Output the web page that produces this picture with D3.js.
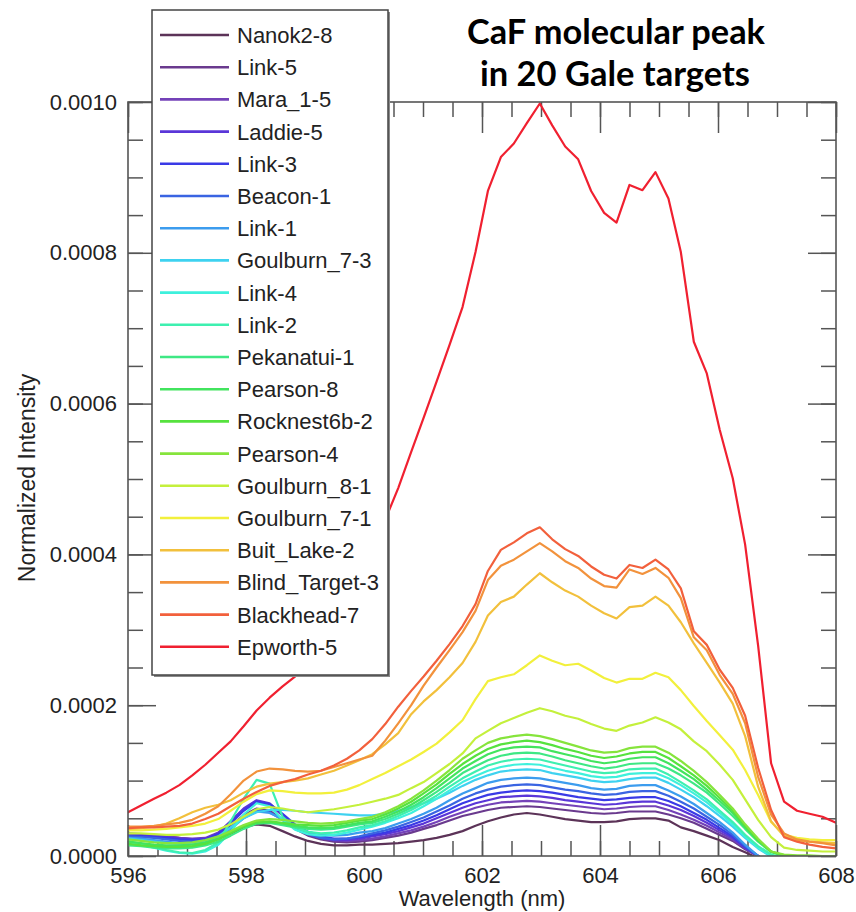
<!DOCTYPE html>
<html>
<head>
<meta charset="utf-8">
<script src="https://cdn.jsdelivr.net/npm/d3@7"></script>
<style>
  html, body { margin: 0; padding: 0; background: #fff; }
  svg { display: block; }
</style>
</head>
<body>
<svg id="chart" width="856" height="912"></svg>
<script>
// Wavelength channels (nm)
const wavelengths = [
  596.00, 596.22, 596.44, 596.65, 596.87, 597.09, 597.31, 597.53, 597.74, 597.96,
  598.18, 598.40, 598.62, 598.83, 599.05, 599.27, 599.49, 599.71, 599.92, 600.14,
  600.36, 600.58, 600.80, 601.01, 601.23, 601.45, 601.67, 601.89, 602.10, 602.32,
  602.54, 602.76, 602.98, 603.19, 603.41, 603.63, 603.85, 604.07, 604.28, 604.50,
  604.72, 604.94, 605.16, 605.37, 605.59, 605.81, 606.03, 606.25, 606.46, 606.68,
  606.90, 607.12, 607.34, 607.55, 607.77, 608.00
];

// Normalized intensity of each target, in units of 1e-5
const INTENSITY_UNIT = 1e-5;

const nanok2_8 = [
  2.6, 2.6, 2.5, 2.3, 2.1, 2.0, 2.0, 2.3, 3.0, 3.8,
  4.2, 4.0, 3.3, 2.6, 2.0, 1.6, 1.4, 1.4, 1.5,
  1.5, 1.6, 1.7, 1.9, 2.1, 2.4, 2.8, 3.3, 4.0, 4.6,
  5.1, 5.5, 5.7, 5.5, 5.2, 4.9, 4.7, 4.5, 4.5, 4.6,
  4.9, 5.0, 5.0, 4.7, 3.8, 3.3, 2.7, 2.1, 1.2, 0.5,
  -0.3, -1.0, -1.5, -1.5, -1.5, -1.5, -1.5
];
const link_5 = [
  3.0, 2.9, 2.8, 2.6, 2.4, 2.2, 2.3, 2.8, 4.0, 5.4,
  6.3, 6.0, 4.8, 3.6, 2.7, 2.2, 1.9, 1.8, 1.9,
  2.1, 2.4, 2.7, 3.1, 3.6, 4.1, 4.7, 5.3, 5.7, 6.1,
  6.4, 6.5, 6.6, 6.5, 6.3, 6.1, 5.9, 5.7, 5.6, 5.7,
  5.9, 5.9, 5.9, 5.5, 5.0, 4.4, 3.6, 2.8, 2.0, 0.9,
  0.0, -1.0, -1.5, -1.5, -1.5, -1.5, -1.5
];
const mara_1_5 = [
  2.8, 2.8, 2.7, 2.6, 2.4, 2.3, 2.4, 3.1, 4.6, 6.2,
  7.1, 6.8, 5.4, 4.0, 3.0, 2.4, 2.1, 2.0, 2.1,
  2.3, 2.6, 3.0, 3.4, 3.9, 4.5, 5.2, 5.8, 6.4, 6.8,
  7.1, 7.2, 7.3, 7.2, 7.0, 6.8, 6.6, 6.4, 6.2, 6.3,
  6.5, 6.6, 6.6, 6.1, 5.5, 4.8, 4.0, 3.1, 2.2, 1.0,
  0.0, -1.0, -1.5, -1.5, -1.5, -1.5, -1.5
];
const laddie_5 = [
  2.9, 2.8, 2.7, 2.5, 2.3, 2.2, 2.3, 3.0, 4.6, 6.3,
  7.4, 7.0, 5.5, 4.0, 3.0, 2.4, 2.1, 2.1, 2.3,
  2.6, 2.9, 3.3, 3.8, 4.3, 5.0, 5.7, 6.4, 7.0, 7.4,
  7.8, 7.9, 8.0, 7.9, 7.7, 7.4, 7.2, 7.0, 6.8, 6.9,
  7.1, 7.2, 7.2, 6.7, 6.1, 5.3, 4.4, 3.4, 2.4, 1.1,
  0.0, -1.0, -1.5, -1.5, -1.5, -1.5, -1.5
];
const link_3 = [
  2.7, 2.6, 2.5, 2.4, 2.2, 2.1, 2.2, 2.9, 4.3, 6.0,
  7.2, 6.9, 5.6, 4.2, 3.2, 2.6, 2.3, 2.3, 2.5,
  2.8, 3.1, 3.6, 4.1, 4.7, 5.4, 6.2, 7.0, 7.6, 8.1,
  8.4, 8.6, 8.7, 8.6, 8.4, 8.1, 7.8, 7.6, 7.4, 7.5,
  7.7, 7.8, 7.8, 7.3, 6.6, 5.7, 4.8, 3.7, 2.6, 1.2,
  0.0, -1.0, -1.5, -1.5, -1.5, -1.5, -1.5
];
const beacon_1 = [
  2.6, 2.5, 2.4, 2.2, 2.0, 1.9, 2.0, 2.6, 3.8, 5.2,
  6.1, 5.8, 4.8, 3.7, 2.9, 2.4, 2.2, 2.3, 2.6,
  3.0, 3.4, 3.9, 4.5, 5.1, 5.9, 6.7, 7.6, 8.3, 8.8,
  9.2, 9.4, 9.5, 9.4, 9.1, 8.8, 8.6, 8.3, 8.1, 8.2,
  8.5, 8.6, 8.6, 8.0, 7.2, 6.3, 5.2, 4.1, 2.8, 1.3,
  0.0, -1.0, -1.5, -1.5, -1.5, -1.5, -1.5
];
const link_1 = [
  2.4, 2.3, 2.1, 1.9, 1.7, 1.6, 1.8, 2.4, 3.6, 5.0,
  5.9, 5.7, 4.9, 3.9, 3.2, 2.8, 2.7, 2.8, 3.1,
  3.3, 3.7, 4.3, 4.9, 5.6, 6.4, 7.4, 8.3, 9.0, 9.7,
  10.1, 10.3, 10.4, 10.3, 10.0, 9.7, 9.4, 9.0, 8.8, 8.9,
  9.3, 9.4, 9.4, 8.7, 7.9, 6.9, 5.7, 4.5, 3.1, 1.5,
  0.0, -1.0, -1.5, -1.5, -1.5, -1.5, -1.5
];
const goulburn_7_3 = [
  2.3, 2.1, 1.9, 1.7, 1.6, 1.6, 1.9, 2.6, 3.8, 5.0,
  5.8, 6.1, 6.1, 6.0, 5.8, 5.7, 5.6, 5.5, 5.4,
  5.4, 5.6, 6.0, 6.5, 7.0, 7.6, 8.4, 9.3, 10.1, 10.7,
  11.2, 11.4, 11.5, 11.4, 11.0, 10.7, 10.4, 10.0, 9.8, 9.9,
  10.2, 10.4, 10.4, 9.7, 8.8, 7.8, 6.6, 5.3, 3.9, 2.4,
  1.0, -0.1, -0.6, -0.7, -0.7, -0.7, -0.7
];
const link_4 = [
  1.8, 1.5, 1.1, 0.7, 0.4, 0.3, 0.6, 1.5, 3.2, 5.5,
  7.0, 6.6, 4.8, 3.5, 2.9, 2.7, 2.8, 3.1, 3.5,
  3.9, 4.4, 5.0, 5.7, 6.6, 7.6, 8.7, 9.8, 10.6, 11.3,
  11.8, 12.1, 12.2, 12.1, 11.7, 11.3, 11.0, 10.6, 10.4, 10.5,
  10.9, 11.0, 11.0, 10.3, 9.4, 8.3, 7.1, 5.7, 4.2, 2.6,
  1.1, 0.0, -0.5, -0.6, -0.6, -0.6, -0.6
];
const link_2 = [
  2.0, 1.6, 1.2, 0.8, 0.5, 0.4, 0.8, 1.8, 4.6, 7.6,
  10.1, 9.6, 5.2, 3.8, 3.2, 3.0, 3.1, 3.4, 3.8,
  4.1, 4.6, 5.3, 6.1, 7.0, 8.0, 9.2, 10.3, 11.2, 12.0,
  12.5, 12.8, 12.9, 12.8, 12.4, 12.0, 11.6, 11.2, 11.0, 11.1,
  11.5, 11.6, 11.6, 10.8, 9.8, 8.7, 7.5, 6.0, 4.5, 2.8,
  1.3, 0.2, -0.3, -0.4, -0.4, -0.4, -0.4
];
const pekanatui_1 = [
  1.4, 1.3, 1.1, 1.0, 1.0, 1.1, 1.4, 1.9, 2.7, 3.6,
  4.3, 4.4, 4.1, 3.8, 3.6, 3.5, 3.6, 3.9, 4.2,
  4.4, 4.9, 5.6, 6.4, 7.4, 8.5, 9.7, 11.0, 11.9, 12.7,
  13.3, 13.6, 13.7, 13.6, 13.2, 12.7, 12.3, 11.9, 11.6, 11.8,
  12.2, 12.3, 12.3, 11.6, 10.7, 9.6, 8.4, 6.9, 5.3, 3.6,
  1.9, 0.5, 0.0, -0.3, -0.3, -0.3, -0.3
];
const pearson_8 = [
  1.9, 1.7, 1.5, 1.4, 1.4, 1.5, 1.8, 2.3, 3.1, 3.9,
  4.4, 4.5, 4.3, 4.0, 3.8, 3.7, 3.8, 4.1, 4.4,
  4.6, 5.2, 5.9, 6.8, 7.8, 9.0, 10.3, 11.6, 12.6, 13.5,
  14.1, 14.4, 14.5, 14.4, 13.9, 13.5, 13.1, 12.6, 12.3, 12.5,
  12.9, 13.1, 13.1, 12.3, 11.3, 10.2, 8.8, 7.3, 5.7, 3.8,
  2.0, 0.6, 0.0, -0.2, -0.2, -0.2, -0.2
];
const rocknest6b_2 = [
  1.6, 1.4, 1.3, 1.2, 1.2, 1.3, 1.6, 2.2, 3.0, 3.9,
  4.5, 4.6, 4.4, 4.2, 4.1, 4.0, 4.1, 4.4, 4.7,
  4.9, 5.5, 6.3, 7.2, 8.3, 9.5, 10.9, 12.2, 13.3, 14.2,
  14.8, 15.1, 15.3, 15.1, 14.7, 14.2, 13.8, 13.3, 13.0, 13.2,
  13.6, 13.8, 13.8, 13.0, 11.9, 10.7, 9.3, 7.7, 6.0, 4.0,
  2.1, 0.6, 0.1, 0.0, -0.1, -0.1, -0.1
];
const pearson_4 = [
  2.2, 2.0, 1.8, 1.7, 1.7, 1.8, 2.1, 2.6, 3.3, 4.1,
  4.7, 4.9, 4.8, 4.6, 4.4, 4.3, 4.4, 4.6, 4.9,
  5.2, 5.8, 6.6, 7.6, 8.7, 10.0, 11.4, 12.9, 14.0, 15.0,
  15.6, 15.9, 16.1, 15.9, 15.5, 15.0, 14.5, 14.0, 13.7, 13.8,
  14.3, 14.5, 14.5, 13.7, 12.6, 11.3, 9.8, 8.1, 6.3, 4.2,
  2.3, 0.6, 0.2, 0.1, 0.1, 0.0, 0.0
];
const goulburn_8_1 = [
  3.0, 3.0, 2.9, 2.8, 2.8, 2.9, 3.1, 3.5, 4.2, 5.2,
  6.2, 6.5, 6.3, 6.0, 5.8, 6.0, 6.2, 6.5, 6.8, 7.2,
  7.6, 8.1, 9.0, 9.8, 11.0, 12.2, 13.6, 15.6, 16.6, 17.6,
  18.3, 19.0, 19.6, 19.2, 18.6, 18.2, 17.5, 16.9, 16.6, 17.3,
  17.7, 18.4, 17.7, 16.8, 15.2, 13.9, 12.1, 10.1, 7.5, 4.8,
  2.5, 1.1, 0.8, 0.7, 0.6, 0.6
];
const goulburn_7_1 = [
  3.4, 3.4, 3.5, 3.6, 3.8, 4.0, 4.3, 4.9, 6.0, 7.2,
  8.2, 8.7, 8.6, 8.4, 8.3, 8.3, 8.4, 8.8, 9.4, 10.2,
  11.0, 11.9, 12.8, 13.8, 14.9, 16.4, 18.0, 20.8, 23.2, 23.7,
  24.1, 25.3, 26.6, 25.9, 25.3, 25.5, 24.6, 23.6, 23.0, 23.5,
  23.5, 24.3, 23.7, 22.0, 19.9, 17.9, 16.0, 14.1, 11.4, 8.1,
  4.5, 2.8, 2.4, 2.2, 2.1, 2.1
];
const buit_lake_2 = [
  3.6, 3.7, 3.9, 4.3, 5.0, 5.8, 6.4, 6.8, 7.4, 8.4,
  9.2, 9.6, 9.8, 10.0, 10.3, 10.8, 11.3, 12.0, 12.7, 13.5,
  14.8, 16.3, 18.8, 20.5, 22.0, 23.7, 25.6, 28.4, 31.9, 33.7,
  34.4, 36.0, 37.5, 36.3, 35.2, 34.4, 33.2, 32.2, 31.5, 33.0,
  33.2, 34.4, 33.2, 31.0, 28.2, 25.6, 23.0, 20.2, 15.9, 9.2,
  4.6, 2.6, 2.1, 1.9, 1.8, 1.7
];
const blind_target_3 = [
  3.9, 3.9, 4.0, 4.2, 4.4, 4.8, 5.6, 6.6, 8.2, 10.0,
  11.2, 11.6, 11.5, 11.3, 11.2, 11.3, 11.8, 12.3, 12.8, 13.3,
  15.3, 17.6, 20.0, 22.6, 25.0, 27.3, 29.7, 32.5, 36.6, 38.5,
  39.3, 40.4, 41.5, 40.4, 39.1, 38.2, 36.8, 35.8, 35.6, 38.0,
  37.4, 38.2, 36.9, 34.2, 29.0, 27.3, 24.0, 21.5, 17.6, 10.5,
  5.5, 3.0, 2.2, 1.9, 1.7, 1.4
];
const blackhead_7 = [
  3.7, 3.8, 3.8, 3.9, 4.0, 4.3, 4.9, 5.6, 6.6, 7.6,
  8.5, 9.3, 9.8, 10.2, 10.8, 11.3, 12.0, 12.9, 14.0, 15.5,
  17.5, 19.8, 21.9, 23.8, 25.9, 28.1, 30.5, 33.4, 37.8, 40.6,
  41.6, 42.8, 43.6, 42.0, 40.7, 39.8, 38.4, 37.3, 36.8, 38.6,
  38.2, 39.3, 38.0, 35.5, 29.8, 28.0, 24.7, 22.3, 18.6, 11.7,
  6.1, 2.5, 1.9, 1.5, 1.2, 1.0
];
const epworth_5 = [
  5.8, 6.7, 7.6, 8.4, 9.4, 10.7, 12.1, 13.7, 15.2, 17.2,
  19.3, 21.0, 22.5, 23.8, 26.3, 28.9, 31.6, 34.4, 37.2, 40.6,
  44.6, 48.8, 53.6, 58.1, 62.9, 67.8, 72.8, 80.1, 88.2, 92.7,
  94.5, 97.2, 99.8, 96.9, 94.1, 92.4, 88.2, 85.3, 84.0, 89.0,
  88.3, 90.7, 87.2, 80.1, 68.2, 64.0, 56.5, 50.1, 41.3, 27.9,
  12.3, 7.2, 6.0, 5.6, 5.2, 4.4
];

const targetNames = [
  "Nanok2-8", "Link-5", "Mara_1-5", "Laddie-5", "Link-3", "Beacon-1", "Link-1",
  "Goulburn_7-3", "Link-4", "Link-2", "Pekanatui-1", "Pearson-8", "Rocknest6b-2",
  "Pearson-4", "Goulburn_8-1", "Goulburn_7-1", "Buit_Lake-2", "Blind_Target-3",
  "Blackhead-7", "Epworth-5"
];
const targetValues = [
  nanok2_8, link_5, mara_1_5, laddie_5, link_3, beacon_1, link_1,
  goulburn_7_3, link_4, link_2, pekanatui_1, pearson_8, rocknest6b_2,
  pearson_4, goulburn_8_1, goulburn_7_1, buit_lake_2, blind_target_3,
  blackhead_7, epworth_5
];
const targetColors = [
  "#5c3358", "#6a3a8e", "#7442b8", "#5a36d8", "#3a3ae6", "#3a64e2", "#3c9cee",
  "#3ed2f0", "#3ef0dc", "#3ef0b0", "#3ee884", "#42e45e", "#56e23e",
  "#86e43c", "#c4f03c", "#f2f03c", "#f2c03c", "#f2923c", "#f2603c", "#f02030"
];

const xMajorTicks = [596, 598, 600, 602, 604, 606, 608];
const xMinorTicks = d3.range(596, 608.01, 0.5);
const yMajorTicks = [0, 0.0002, 0.0004, 0.0006, 0.0008, 0.0010];
const yMinorTicks = d3.range(0, 0.001001, 0.00005);

const titleLines = ["CaF molecular peak", "in 20 Gale targets"];
const xLabel = "Wavelength (nm)";
const yLabel = "Normalized Intensity";

// ---- layout ----
const plot = { left: 128, right: 836, top: 102, bottom: 856 };
const svg = d3.select("#chart");
const axisFont = "'Liberation Sans', Arial, Helvetica, sans-serif";
const axisColor = "#555";

const x = d3.scaleLinear().domain([596, 608]).range([plot.left, plot.right]);
const y = d3.scaleLinear().domain([0, 0.001]).range([plot.bottom, plot.top]);

svg.append("defs").append("clipPath").attr("id", "plot-clip")
  .append("rect")
  .attr("x", plot.left).attr("y", plot.top)
  .attr("width", plot.right - plot.left).attr("height", plot.bottom - plot.top);

// ---- axes (ticks point inward on all four sides) ----
function styleAxis(g) {
  g.select(".domain").remove();
  g.selectAll(".tick line").attr("stroke", axisColor).attr("stroke-width", 1.5);
  g.selectAll(".tick text").attr("fill", "#222")
    .style("font-family", axisFont).style("font-size", "22px");
}

svg.append("g").attr("transform", `translate(0,${plot.bottom})`)
  .call(d3.axisBottom(x).tickValues(xMinorTicks).tickSize(-15).tickFormat(""))
  .call(styleAxis);
svg.append("g").attr("transform", `translate(0,${plot.bottom})`)
  .call(d3.axisBottom(x).tickValues(xMajorTicks).tickSize(-31).tickPadding(11)
    .tickFormat(d3.format("d")))
  .call(styleAxis);
svg.append("g").attr("transform", `translate(0,${plot.top})`)
  .call(d3.axisTop(x).tickValues(xMinorTicks).tickSize(-15).tickFormat(""))
  .call(styleAxis);
svg.append("g").attr("transform", `translate(0,${plot.top})`)
  .call(d3.axisTop(x).tickValues(xMajorTicks).tickSize(-31).tickFormat(""))
  .call(styleAxis);

svg.append("g").attr("transform", `translate(${plot.left},0)`)
  .call(d3.axisLeft(y).tickValues(yMinorTicks).tickSize(-15).tickFormat(""))
  .call(styleAxis);
svg.append("g").attr("transform", `translate(${plot.left},0)`)
  .call(d3.axisLeft(y).tickValues(yMajorTicks).tickSize(-28).tickPadding(11)
    .tickFormat(d3.format(".4f")))
  .call(styleAxis);
svg.append("g").attr("transform", `translate(${plot.right},0)`)
  .call(d3.axisRight(y).tickValues(yMinorTicks).tickSize(-15).tickFormat(""))
  .call(styleAxis);
svg.append("g").attr("transform", `translate(${plot.right},0)`)
  .call(d3.axisRight(y).tickValues(yMajorTicks).tickSize(-28).tickFormat(""))
  .call(styleAxis);

// ---- spectra ----
const line = d3.line()
  .x((d, i) => x(wavelengths[i]))
  .y(d => y(d * INTENSITY_UNIT))
  .curve(d3.curveLinear);

svg.append("g").attr("clip-path", "url(#plot-clip)")
  .selectAll("path")
  .data(targetValues)
  .join("path")
  .attr("d", line)
  .attr("fill", "none")
  .attr("stroke", (d, i) => targetColors[i])
  .attr("stroke-width", 2.2)
  .attr("stroke-linejoin", "round")
  .attr("stroke-linecap", "round");

// ---- plot frame ----
svg.append("rect")
  .attr("x", plot.left).attr("y", plot.top)
  .attr("width", plot.right - plot.left).attr("height", plot.bottom - plot.top)
  .attr("fill", "none").attr("stroke", axisColor).attr("stroke-width", 1.6);

// ---- axis titles ----
svg.append("text")
  .attr("x", 482).attr("y", 906)
  .attr("text-anchor", "middle")
  .style("font-family", axisFont).style("font-size", "22px").attr("fill", "#222")
  .text(xLabel);

svg.append("text")
  .attr("transform", "translate(35,478) rotate(-90)")
  .attr("text-anchor", "middle")
  .style("font-family", axisFont).style("font-size", "23px").attr("fill", "#222")
  .text(yLabel);

// ---- legend ----
const legend = { x: 152, y: 10, w: 236, h: 665, row0: 35, rowStep: 32.2 };
const lg = svg.append("g");
lg.append("rect")
  .attr("x", legend.x + 2).attr("y", legend.y + 2)
  .attr("width", legend.w).attr("height", legend.h)
  .attr("fill", "#8a8a8a");
lg.append("rect")
  .attr("x", legend.x).attr("y", legend.y)
  .attr("width", legend.w).attr("height", legend.h)
  .attr("fill", "#fff").attr("stroke", "#444").attr("stroke-width", 1.5);

const rows = lg.selectAll("g.row")
  .data(targetNames)
  .join("g")
  .attr("class", "row")
  .attr("transform", (d, i) => `translate(0,${legend.row0 + i * legend.rowStep})`);
rows.append("line")
  .attr("x1", 160).attr("x2", 229).attr("y1", 0).attr("y2", 0)
  .attr("stroke", (d, i) => targetColors[i]).attr("stroke-width", 2.6);
rows.append("text")
  .attr("x", 237).attr("y", 0).attr("dy", "0.36em")
  .style("font-family", axisFont).style("font-size", "22px").attr("fill", "#222")
  .text(d => d);

// ---- title ----
const titleFont = "Lato, 'Open Sans', sans-serif";
const titleSpecs = [
  { text: titleLines[0], cx: 616, y: 44, width: 298 },
  { text: titleLines[1], cx: 615, y: 86, width: 270 }
];
titleSpecs.forEach(t => {
  const el = svg.append("text")
    .attr("x", t.cx).attr("y", t.y)
    .attr("text-anchor", "middle")
    .style("font-family", titleFont).style("font-weight", "700")
    .style("font-size", "30px").attr("fill", "#000")
    .text(t.text);
  const w = el.node().getComputedTextLength();
  if (w > 0) el.style("font-size", (30 * t.width / w).toFixed(2) + "px");
});
</script>
</body>
</html>
